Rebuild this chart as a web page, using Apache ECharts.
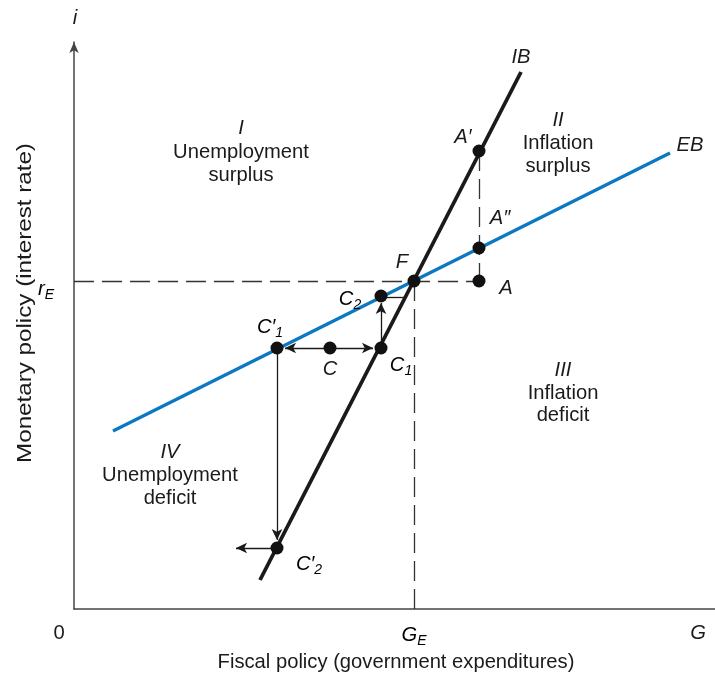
<!DOCTYPE html>
<html><head><meta charset="utf-8">
<script src="https://cdn.jsdelivr.net/npm/echarts@6/dist/echarts.min.js"></script>
<style>html,body{margin:0;padding:0;background:#fff}#c{width:715px;height:673px}</style>
</head><body><div id="c"></div>
<script>
// Curves (data units on schematic axes)
const ibLine = [[186, 29], [447, 537]];
const ebLine = [[39, 178], [596, 456]];
// Named points
const pointNames = ["A'", "A''", "A", "F", "C2", "C1", "C", "C'1", "C'2"];
const pointX = [405, 405, 405, 340, 307, 307, 256, 203, 203];
const pointY = [458, 361, 328, 328, 313, 261, 261, 261, 61];
// Equilibrium values
const GE = 340, rE = 328, Gmax = 624;
// Arrows [from, to]
const arrows = [
  [[256, 261], [211, 261]],
  [[256, 261], [299, 261]],
  [[307, 261], [307, 306]],
  [[203, 261], [203, 69]],
  [[203, 61], [162, 61]]
];
const dashed = [
  [[0, rE], [405, rE]],
  [[GE, 0], [GE, rE]],
  [[405, 458], [405, 328]]
];
const FONT = '"Liberation Sans", Arial, sans-serif';
const FS = 20.2;
const chart = echarts.init(document.getElementById('c'));
const pts = pointX.map((x, i) => [x, pointY[i]]);

function txt(x, y, text, italic) {
  return {type: 'text', x: x, y: y, z: 100, style: {text: text, font: (italic ? 'italic ' : '') + FS + 'px ' + FONT,
    fill: '#1a1a1a', align: 'center', verticalAlign: 'middle'}};
}
const rich = {
  i: {fontStyle: 'italic', fontSize: FS, fontFamily: FONT, color: '#1a1a1a'},
  s: {fontStyle: 'italic', fontSize: 14, fontFamily: FONT, color: '#1a1a1a', padding: [12, 0, 0, 0]}
};
function rt(x, y, main, sub) {
  return {type: 'text', x: x, y: y, z: 100, style: {text: '{i|' + main + '}{s|' + sub + '}', rich: rich,
    align: 'center', verticalAlign: 'middle'}};
}

const option = {
  animation: false,
  grid: {left: 74, right: 0, top: 42, bottom: 64},
  xAxis: {type: 'value', min: 0, max: 641, axisLine: {show: true, lineStyle: {color: '#444', width: 1.5}},
    axisTick: {show: false}, axisLabel: {show: false}, splitLine: {show: false}},
  yAxis: {type: 'value', min: 0, max: 567, axisLine: {show: true, symbol: ['none', 'arrow'], symbolSize: [7, 11],
    lineStyle: {color: '#444', width: 1.5}},
    axisTick: {show: false}, axisLabel: {show: false}, splitLine: {show: false}},
  series: [
    {type: 'line', data: [], silent: true,
      markLine: {silent: true, symbol: ['none', 'none'], label: {show: false},
        lineStyle: {type: [20, 8], color: '#333', width: 1.3},
        data: dashed.map(d => [{coord: d[0]}, {coord: d[1]}])}},
    {type: 'line', data: [], silent: true,
      markLine: {silent: true, symbol: ['none', 'arrow'], symbolSize: [8, 11], label: {show: false},
        lineStyle: {type: 'solid', color: '#1a1a1a', width: 1.3},
        data: arrows.map(d => [{coord: d[0]}, {coord: d[1]}]).concat([[{coord: [307, 312], symbol: 'none'}, {coord: [331, 312], symbol: 'none'}]])}},
    {type: 'line', data: ebLine, showSymbol: false, lineStyle: {color: '#0a78c2', width: 3.3}, z: 3},
    {type: 'line', data: ibLine, showSymbol: false, lineStyle: {color: '#1a1a1a', width: 3.8}, z: 4},
    {type: 'scatter', data: pts, symbolSize: 13, itemStyle: {color: '#111', opacity: 1}, z: 10}
  ],
  graphic: [
    txt(75, 18, 'i', true),
    txt(521, 57, 'IB', true),
    txt(690, 145, 'EB', true),
    txt(241, 128, 'I', true), txt(241, 152, 'Unemployment'), txt(241, 175, 'surplus'),
    txt(558, 120, 'II', true), txt(558, 143, 'Inflation'), txt(558, 166, 'surplus'),
    txt(563, 370, 'III', true), txt(563, 393, 'Inflation'), txt(563, 415, 'deficit'),
    txt(170, 452, 'IV', true), txt(170, 475, 'Unemployment'), txt(170, 498, 'deficit'),
    txt(463, 137, 'A\u2032', true),
    txt(500, 218, 'A\u2033', true),
    txt(506, 288, 'A', true),
    txt(402, 262, 'F', true),
    rt(350, 299, 'C', '2'),
    rt(270, 327, 'C\u2032', '1'),
    txt(330, 369, 'C', true),
    rt(401, 365, 'C', '1'),
    rt(309, 564, 'C\u2032', '2'),
    rt(46, 289, 'r', 'E'),
    txt(59, 633, '0'),
    rt(414, 635, 'G', 'E'),
    txt(698, 633, 'G', true),
    txt(396, 662, 'Fiscal policy (government expenditures)'),
    {type: 'text', x: 26, y: 303, rotation: Math.PI / 2, scaleX: 1.24, z: 100,
      style: {text: 'Monetary policy (interest rate)', font: '19.5px ' + FONT, fill: '#1a1a1a', align: 'center', verticalAlign: 'middle'}}
  ]
};
chart.setOption(option);
</script></body></html>
